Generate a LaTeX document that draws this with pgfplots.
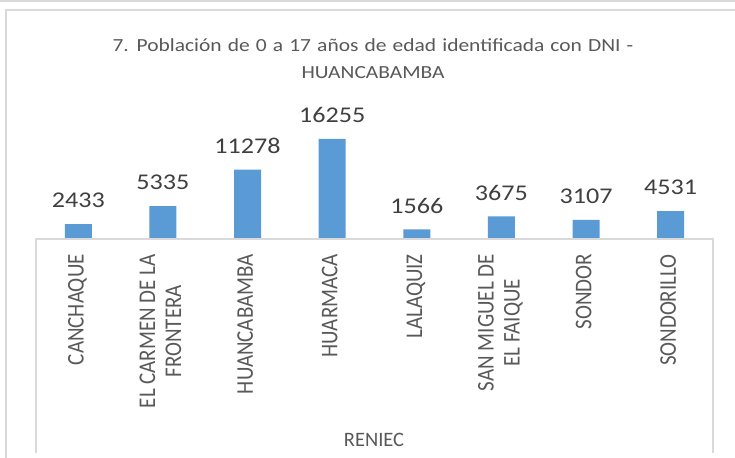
\documentclass[border=0pt]{standalone}
\usepackage{pgfplots}
\pgfplotsset{compat=1.18}
\usepackage{fontspec}
\setmainfont{Carlito}
\definecolor{barblue}{HTML}{5B9BD5}
\definecolor{txtgray}{HTML}{595959}
\definecolor{valgray}{HTML}{404040}
\definecolor{linegray}{HTML}{D9D9D9}
% the reference text is a bit wider than Carlito: stretch it sideways
\newcommand{\wide}[1]{\scalebox{1.16}[1]{#1}}
\newcommand{\rotwide}[1]{\scalebox{1}[1.14]{\begin{tabular}{@{}c@{}}#1\end{tabular}}}
\begin{document}
\begin{tikzpicture}
\useasboundingbox (0,0) rectangle (735bp,458bp);
\fill[white] (0,0) rectangle (735bp,458bp);
% chart frame
\draw[linegray, line width=2bp] (6bp,0) -- (6bp,448bp) -- (735bp,448bp);
\draw[linegray, line width=2bp] (0,457bp) -- (735bp,457bp);
\begin{axis}[
    at={(36bp,219bp)},
    anchor=south west,
    scale only axis,
    width=677bp,
    height=200bp,
    xmin=-0.5, xmax=7.5,
    ymin=0, ymax=32510,
    clip=false,
    axis line style={draw=none},
    ytick=\empty,
    xtick=data,
    major tick length=0pt,
    xticklabels={
        \rotwide{CANCHAQUE},
        \rotwide{EL CARMEN DE LA\\FRONTERA},
        \rotwide{HUANCABAMBA},
        \rotwide{HUARMACA},
        \rotwide{LALAQUIZ},
        \rotwide{SAN MIGUEL DE\\EL FAIQUE},
        \rotwide{SONDOR},
        \rotwide{SONDORILLO}
    },
    xticklabel style={
        rotate=90, anchor=east, inner sep=0pt,
        font=\fontsize{21bp}{22.8bp}\selectfont, text=txtgray
    },
    xticklabel shift=15bp,
    ybar,
    bar width=27bp,
    /pgf/number format/.cd, 1000 sep={}, assume math mode=true, /pgfplots/.cd,
    nodes near coords={\wide{\pgfmathprintnumber{\pgfplotspointmeta}}},
    every node near coord/.append style={
        font=\fontsize{22.5bp}{26bp}\selectfont, text=valgray,
        inner sep=0pt, yshift=16bp
    },
]
\addplot[fill=barblue, draw=none] coordinates {
    (0,2433) (1,5335) (2,11278) (3,16255)
    (4,1566) (5,3675) (6,3107) (7,4531)
};
\draw[linegray, line width=2bp]
    ([yshift=-214bp]rel axis cs:0,0) -- (rel axis cs:0,0)
    -- (rel axis cs:1,0) -- ([yshift=-214bp]rel axis cs:1,0);
\end{axis}
\node[text=txtgray, font=\fontsize{18.5bp}{22bp}\selectfont]
    at (373bp,413bp) {\wide{\spaceskip=5.3bp\relax 7. Población de 0 a 17 años de edad identificada con DNI -}};
\node[text=txtgray, font=\fontsize{18.5bp}{22bp}\selectfont]
    at (373bp,385bp) {\wide{HUANCABAMBA}};
\node[text=txtgray, font=\fontsize{20.5bp}{24bp}\selectfont] at (374bp,18bp) {RENIEC};
\end{tikzpicture}
\end{document}
